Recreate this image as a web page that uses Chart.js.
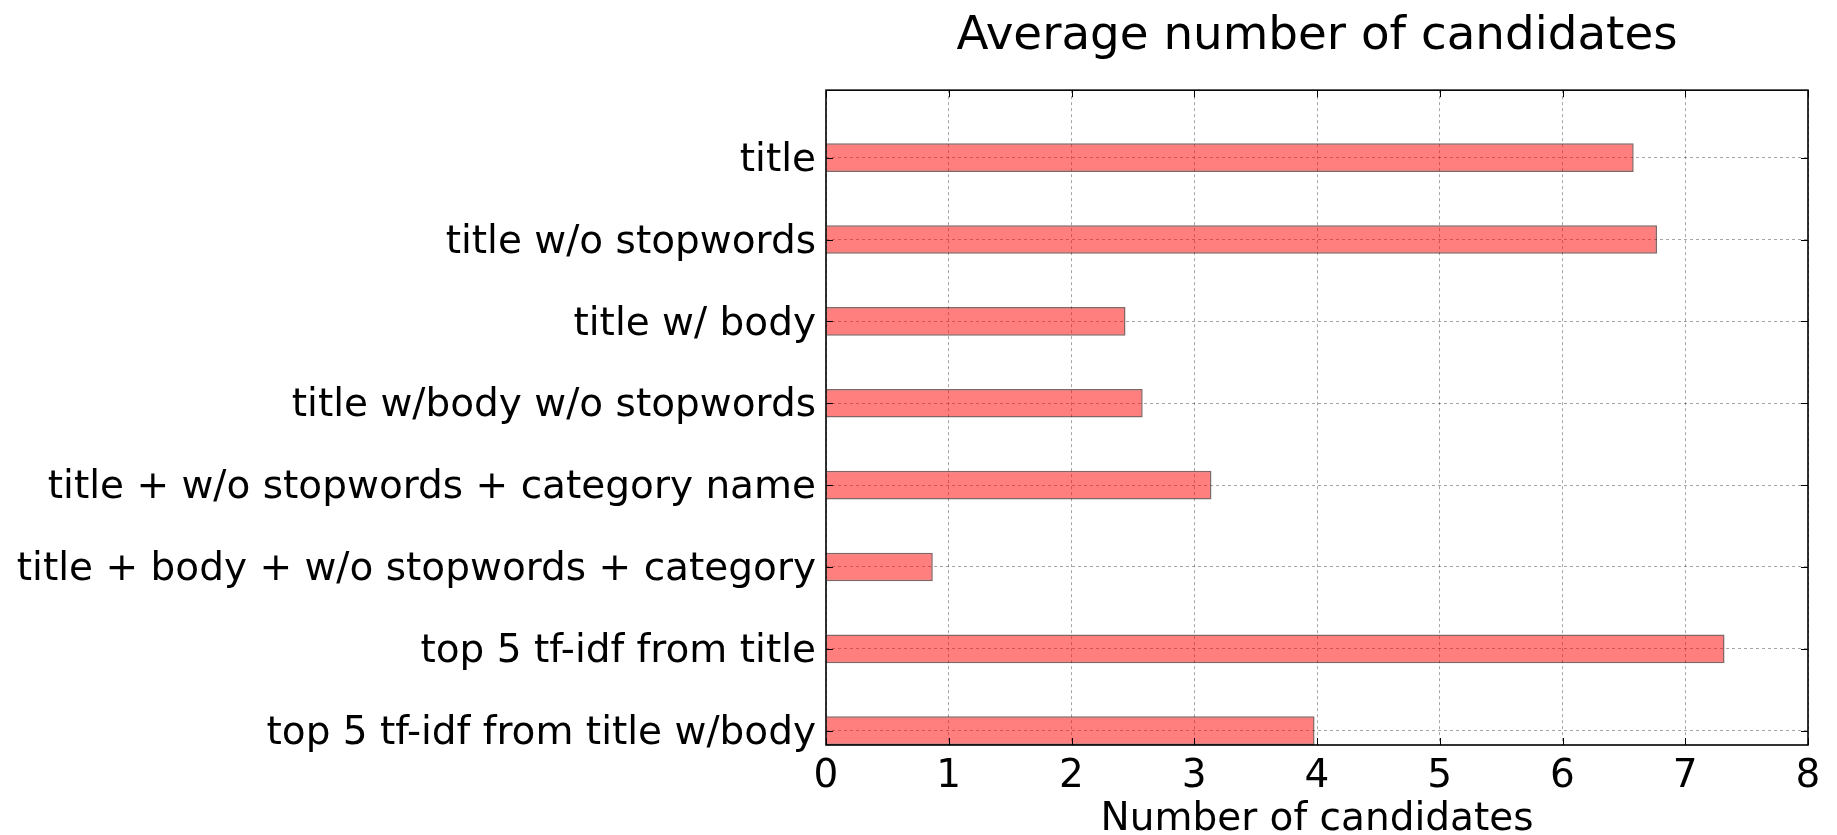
<!DOCTYPE html>
<html><head><meta charset="utf-8">
<script src="https://cdn.jsdelivr.net/npm/chart.js@4"></script>
<style>html,body{margin:0;padding:0;background:#fff}</style>
</head><body>
<canvas id="c" width="1837" height="835" style="width:1837px;height:835px;display:block"></canvas>
<script>
const categories = [
  "title",
  "title w/o stopwords",
  "title w/ body",
  "title w/body w/o stopwords",
  "title + w/o stopwords + category name",
  "title + body + w/o stopwords + category",
  "top 5 tf-idf from title",
  "top 5 tf-idf from title w/body"
];
const values = [6.58, 6.77, 2.44, 2.58, 3.14, 0.87, 7.32, 3.98];
const positions = [0, 1, 2, 3, 4, 5, 6, 7];
const xTickValues = [0, 1, 2, 3, 4, 5, 6, 7, 8];

Chart.defaults.font.family = "'DejaVu Sans'";
Chart.defaults.color = "#000";

const framePlugin = {
  id: 'frame',
  afterDraw(chart) {
    const {ctx, chartArea: a, scales} = chart;
    const tl = 7;
    ctx.save();
    ctx.strokeStyle = '#000';
    ctx.lineWidth = 1;
    ctx.beginPath();
    xTickValues.forEach(v => {
      const px = Math.round(scales.x.getPixelForValue(v)) + 0.5;
      ctx.moveTo(px, a.bottom); ctx.lineTo(px, a.bottom - tl);
      ctx.moveTo(px, a.top); ctx.lineTo(px, a.top + tl);
    });
    positions.forEach(v => {
      const py = Math.round(scales.y.getPixelForValue(v)) + 0.5;
      ctx.moveTo(a.left, py); ctx.lineTo(a.left + tl, py);
      ctx.moveTo(a.right, py); ctx.lineTo(a.right - tl, py);
    });
    ctx.stroke();
    ctx.lineWidth = 1.6;
    ctx.strokeRect(a.left, a.top, a.right - a.left, a.bottom - a.top);
    ctx.restore();
  }
};

new Chart(document.getElementById('c'), {
  type: 'bar',
  data: {
    datasets: [{
      data: positions.map((p, i) => ({x: values[i], y: p})),
      backgroundColor: 'rgba(255,0,0,0.5)',
      borderColor: 'rgba(50,0,0,0.6)',
      borderWidth: 1.5,
      categoryPercentage: 1,
      barPercentage: 0.35
    }]
  },
  options: {
    indexAxis: 'y',
    responsive: false,
    animation: false,
    devicePixelRatio: 1,
    layout: {padding: {left: 0, right: 29, top: 0, bottom: 0}},
    plugins: {
      legend: {display: false},
      tooltip: {enabled: false},
      title: {
        display: true,
        fullSize: false,
        text: 'Average number of candidates',
        font: {size: 46.8, weight: 'normal'},
        color: '#000',
        padding: {top: 9, bottom: 25}
      }
    },
    scales: {
      x: {
        type: 'linear',
        position: 'bottom',
        min: 0, max: 8,
        offset: false,
        z: 1,
        afterBuildTicks: s => { s.ticks = xTickValues.map(v => ({value: v})); },
        afterFit: s => { s.height = 90; },
        ticks: {font: {size: 39}, padding: 8, color: '#000'},
        grid: {color: 'rgba(0,0,0,0.35)', lineWidth: 1, drawTicks: false, offset: false},
        border: {display: false, dash: [3, 3]},
        title: {display: true, text: 'Number of candidates', font: {size: 39}, color: '#000', padding: {top: 4, bottom: -8}}
      },
      y: {
        type: 'linear',
        reverse: true,
        min: -0.825, max: 7.175,
        offset: false,
        z: 1,
        afterBuildTicks: s => { s.ticks = positions.map(v => ({value: v})); },
        afterFit: s => { s.width = 826; },
        ticks: {font: {size: 39}, padding: 10, labelOffset: 3, color: '#000', callback: (v, i) => categories[i]},
        grid: {color: 'rgba(0,0,0,0.35)', lineWidth: 1, drawTicks: false, offset: false},
        border: {display: false, dash: [3, 3]}
      }
    }
  },
  plugins: [framePlugin]
});
</script>
</body></html>
